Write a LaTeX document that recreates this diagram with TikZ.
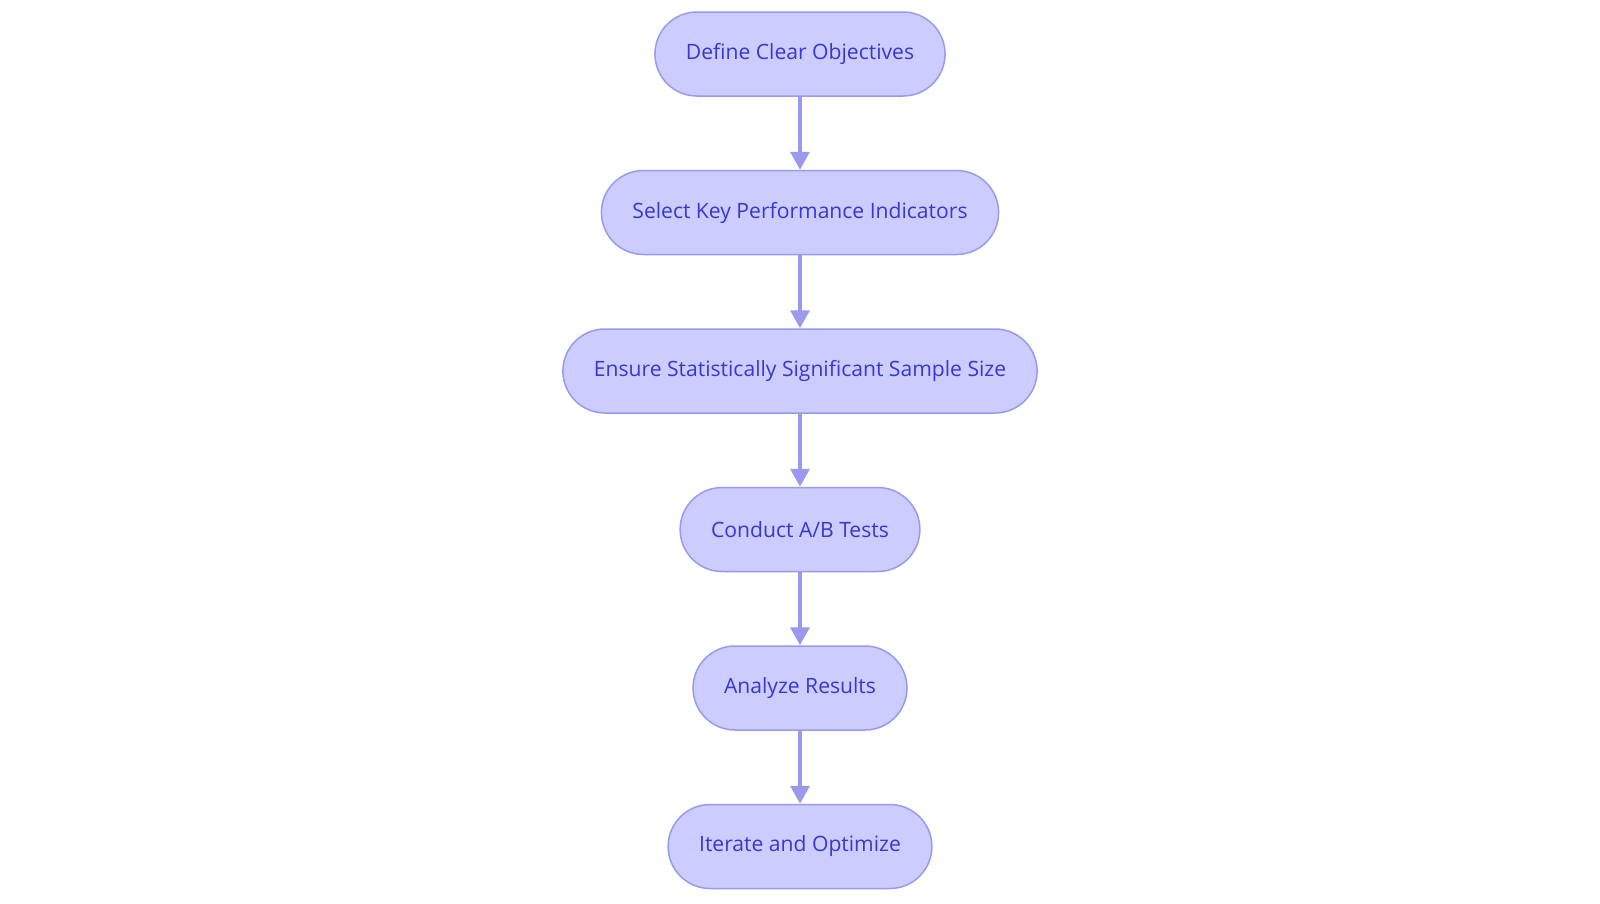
\documentclass[tikz,border=0pt]{standalone}
\usepackage{fontspec}
\setmainfont{Open Sans}
\usepackage{tikz}
\usetikzlibrary{arrows.meta}
\usetikzlibrary{positioning}
\tikzset{stage/.style = {draw = mborder, fill = mfill, text = mtext, line width = 1.5,
                         rounded corners = 42, minimum height = 84, inner xsep = 31,
                         font = \fontsize{21.1}{25}\selectfont}}
\tikzset{flow/.style = {draw = mborder, line width = 3.5,
                        -{Triangle[width = 19, length = 18]}}}
\definecolor{mfill}{RGB}{204, 204, 255}
\definecolor{mborder}{RGB}{153, 153, 238}
\definecolor{mtext}{RGB}{56, 56, 206}

\begin{document}
\begin{tikzpicture}[x = 1pt, y = 1pt]
      \useasboundingbox (0, 0) rectangle (1600, -903);
      \node [stage] (objectives) at (800, -54) {Define Clear Objectives};
      \node [stage] (kpis) at (800, -212.5) {Select Key Performance Indicators};
      \node [stage] (sample) at (800, -371) {Ensure Statistically Significant Sample Size};
      \node [stage] (tests) at (800, -529.5) {Conduct A/B Tests};
      \node [stage] (results) at (800, -688) {Analyze Results};
      \node [stage] (iterate) at (800, -846.5) {Iterate and Optimize};

      \draw [flow] (objectives) -- (kpis);
      \draw [flow] (kpis) -- (sample);
      \draw [flow] (sample) -- (tests);
      \draw [flow] (tests) -- (results);
      \draw [flow] (results) -- (iterate);
    \end{tikzpicture}
\end{document}
